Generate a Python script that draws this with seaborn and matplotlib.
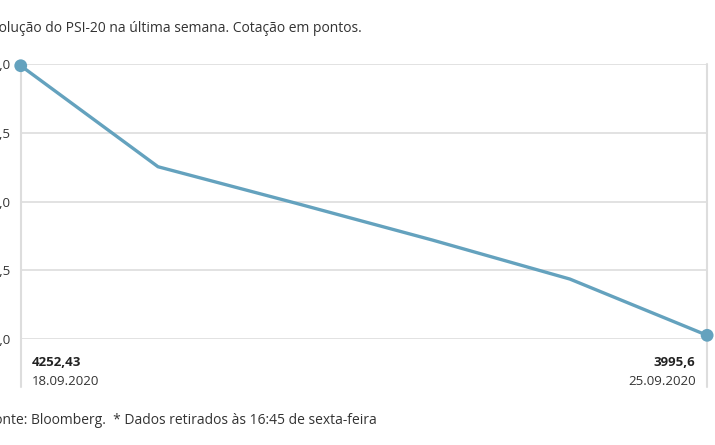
import pandas as pd
import matplotlib.pyplot as plt
import seaborn as sns

datas = ['18.09.2020', '21.09.2020', '22.09.2020', '23.09.2020', '24.09.2020', '25.09.2020']
cotacao = [4252.43, 4156.2, 4121.6, 4086.3, 4049.2, 3995.6]
y_ticks = [3992.0, 4057.5, 4123.0, 4188.5, 4254.0]

df = pd.DataFrame({'pos': range(len(datas)), 'data': datas, 'cotacao': cotacao})

sns.set_theme(style='white')
plt.rcParams['font.family'] = ['Open Sans', 'DejaVu Sans']

azul = '#64a2be'
cinza = '#dddddd'
texto = '#333333'

fig = plt.figure(figsize=(7.15, 4.45), dpi=100)
ax = fig.add_axes([0.029, 0.238, 0.96, 0.618])

sns.lineplot(data=df, x='pos', y='cotacao', color=azul, linewidth=2.4, ax=ax)
ends = df.iloc[[0, -1]]
sns.scatterplot(data=ends, x='pos', y='cotacao', color=azul, s=85, edgecolor='none',
                ax=ax, zorder=5, clip_on=False)

ax.set_xlim(0, len(datas) - 1)
ax.set_ylim(y_ticks[0], y_ticks[-1])
ax.set_yticks(y_ticks)
ax.set_yticklabels([f'{v:.1f}'.replace('.', ',') for v in y_ticks], fontsize=9.5, color=texto)
ax.tick_params(axis='y', length=0, pad=7)
ax.set_xticks([])
ax.set_xlabel('')
ax.set_ylabel('')
ax.grid(axis='y', color=cinza, linewidth=1.2)
ax.set_axisbelow(True)
for s in ax.spines.values():
    s.set_visible(False)

# linhas verticais nas extremidades
for x in [0, 1]:
    ax.plot([x, x], [1, -0.175], transform=ax.transAxes, color=cinza, linewidth=1.5,
            clip_on=False, zorder=1)

# valores nas extremidades
ax.text(0.016, -0.085, f'{cotacao[0]:.2f}'.replace('.', ','), transform=ax.transAxes,
        fontsize=9.5, fontweight='bold', color='#222222', ha='left', va='center')
ax.text(0.016, -0.155, datas[0], transform=ax.transAxes, fontsize=9.5, color=texto,
        ha='left', va='center')
ax.text(0.983, -0.085, f'{cotacao[-1]:.1f}'.replace('.', ','), transform=ax.transAxes,
        fontsize=9.5, fontweight='bold', color='#222222', ha='right', va='center')
ax.text(0.983, -0.155, datas[-1], transform=ax.transAxes, fontsize=9.5, color=texto,
        ha='right', va='center')

fig.text(-16 / 715, 1 - 28 / 445, 'Evolução do PSI-20 na última semana. Cotação em pontos.',
         fontsize=10, color=texto, ha='left', va='center')
fig.text(-13 / 715, 1 - 420 / 445, 'Fonte: Bloomberg.  * Dados retirados às 16:45 de sexta-feira',
         fontsize=10, color=texto, ha='left', va='center')

plt.savefig('out.png', dpi=100)
